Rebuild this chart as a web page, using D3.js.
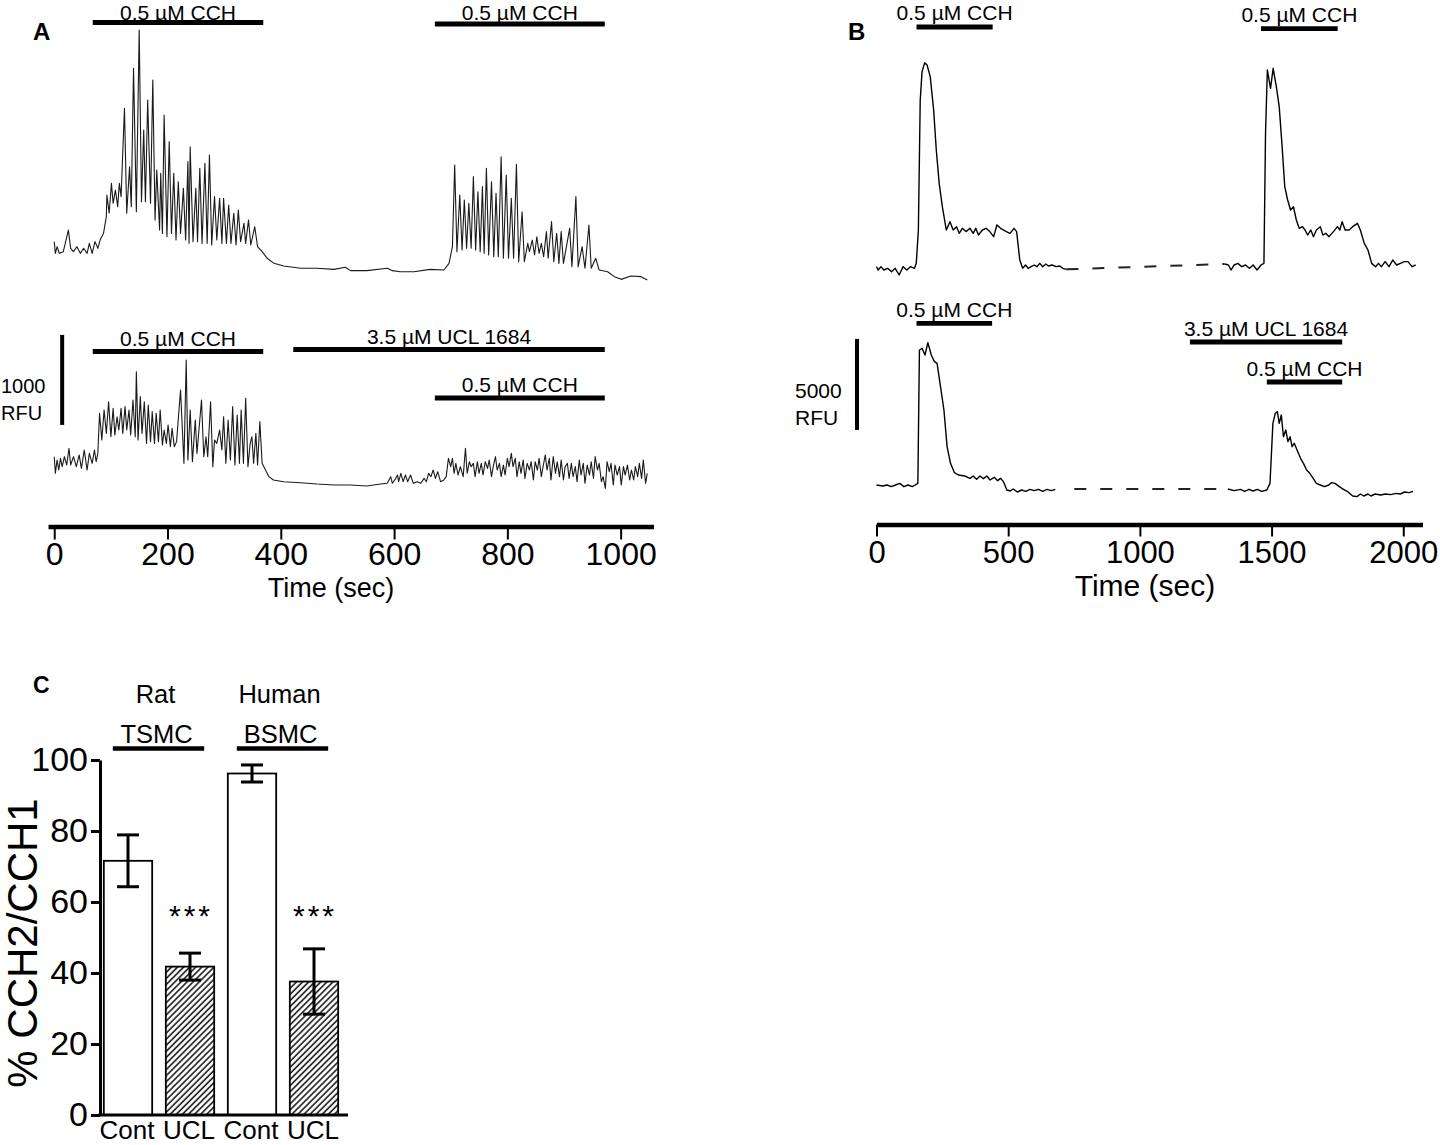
<!DOCTYPE html>
<html>
<head>
<meta charset="utf-8">
<script src="https://cdn.jsdelivr.net/npm/d3@7"></script>
<style>
  body { margin: 0; background: #fff; }
</style>
</head>
<body>
<div id="wrapper"></div>
<script>
// ---- Data ----
// Panel A, rat TSMC traces: [time (sec), RFU above baseline]
const traceA1 = [[0,315],[2,185],[5,259],[9,185],[16,204],[25,444],[29,241],[34,204],[40,259],[46,185],[52,241],[58,185],[62,296],[67,185],[72,315],[77,241],[81,333],[87,407],[92,593],[93,833],[97,630],[101,963],[104,741],[108,889],[112,704],[115,963],[118,815],[124,1796],[128,630],[133,1148],[136,704],[140,2241],[145,648],[150,2667],[154,759],[158,1556],[161,759],[165,1889],[170,741],[174,2111],[178,556],[181,1111],[186,444],[188,1074],[191,407],[194,1722],[199,370],[203,1426],[207,407],[211,1074],[215,333],[219,981],[223,407],[228,907],[232,333],[236,1204],[238,296],[240,1370],[245,315],[250,907],[253,315],[257,1130],[261,296],[266,1185],[270,296],[274,1278],[278,278],[283,815],[287,333],[292,796],[296,296],[299,796],[304,296],[308,722],[312,296],[317,630],[321,278],[325,667],[329,315],[335,519],[338,296],[343,556],[347,278],[354,481],[359,259],[367,204],[376,130],[388,74],[405,44],[435,19],[464,19],[494,7],[514,30],[523,-7],[552,-7],[588,19],[597,-7],[611,-19],[635,-19],[664,7],[688,0],[697,74],[703,259],[707,1167],[711,204],[716,833],[720,222],[724,778],[728,241],[732,741],[736,241],[740,1037],[744,222],[748,870],[752,204],[756,926],[759,185],[763,1130],[767,167],[772,981],[776,148],[780,852],[784,148],[789,1259],[793,130],[798,1056],[802,130],[807,796],[811,130],[816,1174],[820,93],[826,648],[830,93],[836,296],[839,204],[844,333],[848,167],[852,370],[856,185],[860,296],[864,148],[869,426],[872,130],[878,537],[882,93],[887,407],[891,74],[895,426],[899,74],[910,463],[914,37],[921,815],[925,37],[932,259],[937,19],[944,500],[948,19],[956,130],[962,0],[977,-19],[989,-74],[1001,-104],[1018,-67],[1036,-74],[1047,-111]]

const traceA2 = [[0,337],[2,152],[5,300],[8,189],[11,319],[14,226],[18,337],[22,244],[26,430],[29,244],[34,337],[39,226],[44,356],[48,207],[53,411],[58,189],[62,374],[67,263],[71,411],[74,281],[77,374],[80,819],[84,522],[88,856],[92,596],[96,948],[100,559],[104,874],[107,578],[111,781],[114,633],[118,874],[121,596],[125,893],[128,633],[132,856],[135,578],[139,967],[143,559],[145,1281],[148,522],[152,1004],[155,596],[159,948],[163,485],[166,911],[170,504],[173,837],[177,485],[180,819],[184,504],[187,856],[191,467],[194,633],[198,485],[201,689],[205,448],[208,652],[212,448],[216,504],[223,1078],[229,263],[233,1411],[236,300],[240,856],[244,281],[249,744],[252,374],[256,670],[260,967],[264,337],[268,559],[271,337],[276,948],[280,226],[283,522],[287,485],[292,633],[296,411],[299,781],[303,263],[307,744],[311,300],[315,893],[319,244],[323,800],[327,263],[330,856],[334,263],[338,985],[342,226],[346,485],[349,559],[352,263],[356,596],[359,244],[363,726],[367,263],[373,189],[379,115],[387,78],[405,59],[435,48],[464,33],[494,22],[523,22],[552,11],[576,33],[588,41],[594,115],[597,41],[603,96],[606,133],[608,59],[612,152],[616,59],[620,133],[624,59],[629,133],[634,41],[641,59],[647,41],[653,96],[657,59],[661,152],[665,115],[669,189],[673,96],[677,170],[682,59],[688,78],[692,115],[696,319],[700,226],[703,319],[706,152],[709,263],[713,133],[717,226],[722,115],[726,430],[729,152],[733,281],[736,226],[740,263],[743,115],[747,281],[750,152],[754,263],[757,133],[761,281],[765,207],[768,300],[772,115],[775,226],[779,337],[782,189],[786,263],[789,115],[793,244],[796,133],[800,319],[803,226],[807,374],[810,226],[814,319],[817,115],[821,281],[824,152],[828,300],[831,96],[835,263],[839,189],[842,281],[846,78],[849,281],[853,189],[856,319],[860,115],[863,226],[867,356],[870,189],[874,319],[877,78],[881,337],[885,152],[888,281],[892,115],[895,300],[899,78],[902,226],[906,263],[909,96],[913,263],[916,115],[920,226],[923,59],[927,300],[930,133],[934,263],[937,41],[941,244],[945,133],[948,281],[952,96],[955,337],[959,189],[962,263],[966,59],[969,115],[973,-15],[976,281],[980,170],[983,263],[987,22],[990,244],[994,133],[998,226],[1001,22],[1005,226],[1008,133],[1012,244],[1016,78],[1019,189],[1023,78],[1026,226],[1030,115],[1033,263],[1037,96],[1040,300],[1044,41],[1047,152]]

// Panel B, human BSMC traces, split around the break in recording
const traceB1Pre = [[0,73],[6,-110],[17,73],[28,-110],[42,-18],[57,-201],[71,-18],[86,-385],[101,73],[115,-110],[129,73],[144,-18],[151,256],[159,2088],[166,9231],[173,10788],[183,11282],[192,11154],[204,10513],[217,8681],[227,6484],[238,4652],[250,3370],[265,2088],[279,2546],[291,2088],[304,2271],[314,1905],[326,2180],[340,2000],[355,2180],[367,1905],[377,2180],[387,1813],[402,2088],[416,2180],[430,2000],[445,1722],[457,2363],[471,2180],[493,2000],[507,1905],[522,2180],[532,2000],[544,440],[555,-18],[566,165],[576,-18],[587,73],[599,165],[609,73],[620,256],[631,73],[643,220],[653,110],[667,165],[682,73],[696,110],[707,-18],[721,-73]]
const traceB1Post = [[1322,220],[1336,165],[1346,-110],[1358,165],[1372,256],[1387,73],[1401,165],[1416,-18],[1430,165],[1445,-110],[1460,165],[1471,256],[1477,7399],[1484,10879],[1496,9872],[1506,10971],[1518,9963],[1529,8864],[1540,6667],[1550,4469],[1561,3736],[1572,3187],[1583,3370],[1594,2637],[1605,2180],[1617,2271],[1627,2088],[1637,1813],[1649,2088],[1659,1722],[1670,2088],[1685,2271],[1695,1813],[1706,1905],[1718,1722],[1735,2000],[1750,2271],[1759,2088],[1768,2546],[1779,2088],[1794,2088],[1808,2271],[1826,2454],[1837,2088],[1852,1355],[1866,989],[1880,256],[1895,73],[1906,256],[1917,73],[1931,348],[1946,73],[1960,440],[1975,165],[1989,256],[2004,348],[2018,348],[2033,73],[2047,165]]
const gapB1 = [[721,-73],[1322,220]]

const traceB2Pre = [[0,275],[24,220],[40,275],[56,183],[72,275],[88,366],[104,183],[120,275],[136,183],[147,275],[157,366],[163,7692],[173,7784],[184,7418],[195,8095],[208,7418],[220,7051],[230,6960],[243,5678],[256,4396],[268,2381],[281,1465],[296,952],[311,824],[335,769],[355,641],[367,769],[380,586],[393,769],[406,623],[419,769],[431,549],[447,696],[460,513],[471,641],[482,458],[495,0],[508,-55],[519,55],[535,-110],[551,0],[567,-73],[583,37],[599,-37],[615,37],[631,-73],[647,37],[663,-37],[679,37]]
const traceB2Post = [[1334,55],[1358,-37],[1382,37],[1398,-73],[1414,37],[1430,-55],[1446,37],[1462,-73],[1482,0],[1494,366],[1505,3663],[1514,4212],[1522,4304],[1529,3663],[1537,4121],[1545,2930],[1554,3297],[1562,2656],[1570,2930],[1578,2381],[1586,2564],[1594,2289],[1602,2015],[1610,1740],[1621,1465],[1633,1099],[1645,916],[1658,641],[1670,366],[1685,275],[1701,183],[1717,275],[1728,403],[1741,366],[1757,183],[1773,37],[1789,-92],[1808,-330],[1824,-366],[1837,-220],[1850,-330],[1866,-220],[1877,-330],[1893,-220],[1914,-275],[1933,-220],[1952,-256],[1973,-183],[1989,-220],[2005,-110],[2021,-147],[2037,-73]]
const gapB2 = [[751,55],[1326,55]]

// Drug applications [label, start sec, end sec]
const drugsA1 = [["0.5 µM CCH", 68, 369], ["0.5 µM CCH", 672, 972]]
const drugsA2 = [["0.5 µM CCH", 68, 369], ["3.5 µM UCL 1684", 422, 972], ["0.5 µM CCH", 672, 972]]
const drugsB1 = [["0.5 µM CCH", 152, 441], ["0.5 µM CCH", 1460, 1751]]
const drugsB2 = [["0.5 µM CCH", 152, 439], ["3.5 µM UCL 1684", 1190, 1768], ["0.5 µM CCH", 1482, 1768]]

// Axis ticks
const ticksA = [0, 200, 400, 600, 800, 1000]
const ticksB = [0, 500, 1000, 1500, 2000]
const ticksC = [0, 20, 40, 60, 80, 100]

// Scale bars
const scaleBarA = 1000
const scaleBarB = 5000

// Panel C summary
const cCategories = ["Cont", "UCL", "Cont", "UCL"]
const cMeans = [71.6, 41.8, 96.2, 37.6]
const cErrors = [7.3, 3.8, 2.4, 9.2]
const cTreated = [false, true, false, true]
const cGroupsTop = ["Rat", "Human"]
const cGroupsBottom = ["TSMC", "BSMC"]
const cStars = ["", "***", "", "***"]

function drawChart() {

    const font = '"Liberation Sans", Arial, Helvetica, sans-serif'

    const wrapper = d3.select("#wrapper")
        .append("svg")
        .attr("width", 1440)
        .attr("height", 1145)
        .attr("font-family", font)
        .style("background", "#fff")

    const defs = wrapper.append("defs")
    const hatch = defs.append("pattern")
        .attr("id", "hatch")
        .attr("patternUnits", "userSpaceOnUse")
        .attr("width", 4.3)
        .attr("height", 4.3)
        .attr("patternTransform", "rotate(45)")
    hatch.append("rect").attr("width", 4.3).attr("height", 4.3).attr("fill", "#fff")
    hatch.append("line")
        .attr("x1", 1).attr("y1", 0).attr("x2", 1).attr("y2", 4.3)
        .attr("stroke", "#1a1a1a").attr("stroke-width", 1.6)

    // Scales
    const xA = d3.scaleLinear().domain([-11, 1058]).range([48, 653.5])
    const yA1 = d3.scaleLinear().domain([0, 1000]).range([270, 180])
    const yA2 = d3.scaleLinear().domain([0, 1000]).range([487, 397])

    const xB = d3.scaleLinear().domain([0, 2073]).range([876.5, 1422.5])
    const yB1 = d3.scaleLinear().domain([0, 5000]).range([268, 177])
    const yB2 = d3.scaleLinear().domain([0, 5000]).range([490, 399])

    // Traces
    const drawTrace = (data, x, y, width, color) => {
        const line = d3.line()
            .x(d => x(d[0]))
            .y(d => y(d[1]))
        wrapper.append("path")
            .datum(data)
            .attr("d", line)
            .attr("fill", "none")
            .attr("stroke", color)
            .attr("stroke-width", width)
            .attr("stroke-linejoin", "round")
    }
    drawTrace(traceA1, xA, yA1, 1.1, "#1a1a1a")
    drawTrace(traceA2, xA, yA2, 1.1, "#1a1a1a")
    drawTrace(traceB1Pre, xB, yB1, 1.4, "#000")
    drawTrace(traceB1Post, xB, yB1, 1.4, "#000")
    drawTrace(traceB2Pre, xB, yB2, 1.4, "#000")
    drawTrace(traceB2Post, xB, yB2, 1.4, "#000")

    // break in recording
    const drawGap = (data, y) => {
        wrapper.append("path")
            .datum(data)
            .attr("d", d3.line().x(d => xB(d[0])).y(d => y(d[1])))
            .attr("fill", "none")
            .attr("stroke", "#222")
            .attr("stroke-width", 2)
            .attr("stroke-dasharray", "12,14")
    }
    drawGap(gapB1, yB1)
    drawGap(gapB2, yB2)

    // Drug bars
    const drawDrugs = (drugs, x, rows, textGap) => {
        drugs.forEach((d, i) => {
            wrapper.append("line")
                .attr("x1", x(d[1])).attr("x2", x(d[2]))
                .attr("y1", rows[i]).attr("y2", rows[i])
                .attr("stroke", "#000")
                .attr("stroke-width", 4.8)
            wrapper.append("text")
                .attr("x", (x(d[1]) + x(d[2])) / 2)
                .attr("y", Math.max(rows[i] - textGap, 19.5))
                .attr("text-anchor", "middle")
                .attr("font-size", 21)
                .text(d[0])
        })
    }
    drawDrugs(drugsA1, xA, [22.5, 24], 6)
    drawDrugs(drugsA2, xA, [351.5, 349.5, 398], 6)
    drawDrugs(drugsB1, xB, [27, 28.7], 7)
    drawDrugs(drugsB2, xB, [323.3, 342, 382], 6.5)

    // Scale bars
    wrapper.append("line")
        .attr("x1", xA(14)).attr("x2", xA(14))
        .attr("y1", yA2(690)).attr("y2", yA2(690 + scaleBarA))
        .attr("stroke", "#000").attr("stroke-width", 4)
    wrapper.append("text").attr("x", 1).attr("y", 393).attr("font-size", 20).text(scaleBarA)
    wrapper.append("text").attr("x", 1).attr("y", 420).attr("font-size", 20).text("RFU")

    wrapper.append("line")
        .attr("x1", xB(-74)).attr("x2", xB(-74))
        .attr("y1", yB2(3300)).attr("y2", yB2(3300 + scaleBarB))
        .attr("stroke", "#000").attr("stroke-width", 4)
    wrapper.append("text").attr("x", 795).attr("y", 398).attr("font-size", 21).text(scaleBarB)
    wrapper.append("text").attr("x", 795).attr("y", 425).attr("font-size", 21).text("RFU")

    // Time axes
    const styleAxis = (g, size, lineW) => {
        g.attr("font-family", font)
        g.select(".domain").attr("stroke-width", lineW)
        g.selectAll(".tick line").attr("stroke-width", 2)
        g.selectAll(".tick text").attr("font-size", size).attr("fill", "#000")
    }
    const xAxisA = wrapper.append("g")
        .attr("transform", "translate(0, 526.5)")
        .call(d3.axisBottom(xA).tickValues(ticksA).tickFormat(d3.format("d"))
            .tickSize(13).tickSizeOuter(0).tickPadding(3))
    styleAxis(xAxisA, 32, 4.5)
    wrapper.append("text")
        .attr("x", 331).attr("y", 597)
        .attr("text-anchor", "middle")
        .attr("font-size", 27)
        .text("Time (sec)")

    const xAxisB = wrapper.append("g")
        .attr("transform", "translate(0, 524.5)")
        .call(d3.axisBottom(xB).tickValues(ticksB).tickFormat(d3.format("d"))
            .tickSize(12).tickSizeOuter(0).tickPadding(4))
    styleAxis(xAxisB, 31, 4.5)
    wrapper.append("text")
        .attr("x", 1145).attr("y", 596)
        .attr("text-anchor", "middle")
        .attr("font-size", 30)
        .text("Time (sec)")

    // Panel letters
    const letter = (t, x, y, s) => wrapper.append("text")
        .attr("x", x).attr("y", y)
        .attr("font-size", s).attr("font-weight", "bold")
        .text(t)
    letter("A", 33, 40, 24)
    letter("B", 848, 40, 24)
    letter("C", 33, 693, 23)

    // Panel C bar chart
    const yC = d3.scaleLinear().domain([0, 100]).range([1115, 760])
    const xC = d3.scaleBand()
        .domain(d3.range(cCategories.length))
        .range([97, 345])
        .paddingInner(0.22)
        .paddingOuter(0.11)

    const bars = wrapper.append("g")
    bars.selectAll("rect")
        .data(cMeans)
        .join("rect")
            .attr("x", (d, i) => xC(i))
            .attr("y", d => yC(d))
            .attr("width", xC.bandwidth())
            .attr("height", d => yC(0) - yC(d))
            .attr("fill", (d, i) => cTreated[i] ? "url(#hatch)" : "#fff")
            .attr("stroke", "#000")
            .attr("stroke-width", 1.8)

    // error bars
    const errs = wrapper.append("g")
        .attr("stroke", "#000")
        .attr("stroke-width", 3)
    cMeans.forEach((m, i) => {
        const cx = xC(i) + xC.bandwidth() / 2
        errs.append("line")
            .attr("x1", cx).attr("x2", cx)
            .attr("y1", yC(m + cErrors[i])).attr("y2", yC(m - cErrors[i]))
        ;[m + cErrors[i], m - cErrors[i]].forEach(v => {
            errs.append("line")
                .attr("x1", cx - 11).attr("x2", cx + 11)
                .attr("y1", yC(v)).attr("y2", yC(v))
        })
    })

    // significance
    wrapper.append("g").selectAll("text")
        .data(cStars)
        .join("text")
            .attr("x", (d, i) => xC(i) + xC.bandwidth() / 2 + 1)
            .attr("y", 926)
            .attr("text-anchor", "middle")
            .attr("font-size", 30)
            .attr("letter-spacing", 3)
            .text(d => d)

    // axes
    const yAxisC = wrapper.append("g")
        .attr("transform", "translate(100, 0)")
        .call(d3.axisLeft(yC).tickValues(ticksC).tickSize(9).tickSizeOuter(0).tickPadding(3))
    yAxisC.attr("font-family", font)
    yAxisC.select(".domain").attr("stroke-width", 3)
    yAxisC.selectAll(".tick line").attr("stroke-width", 3)
    yAxisC.selectAll(".tick text").attr("font-size", 34).attr("fill", "#000")

    wrapper.append("line")
        .attr("x1", 98.5).attr("x2", 348)
        .attr("y1", yC(0)).attr("y2", yC(0))
        .attr("stroke", "#000").attr("stroke-width", 3)

    wrapper.append("g").selectAll("text")
        .data(cCategories)
        .join("text")
            .attr("x", (d, i) => xC(i) + xC.bandwidth() / 2 - 1)
            .attr("y", 1139)
            .attr("text-anchor", "middle")
            .attr("font-size", 26)
            .text(d => d)

    wrapper.append("text")
        .attr("transform", "translate(37, 943) rotate(-90)")
        .attr("text-anchor", "middle")
        .attr("font-size", 42)
        .text("% CCH2/CCH1")

    // group headers
    cGroupsTop.forEach((g, k) => {
        const x0 = xC(2 * k) + 9
        const x1 = xC(2 * k + 1) + xC.bandwidth() - 10
        const cx = (x0 + x1) / 2
        wrapper.append("text")
            .attr("x", cx - 3).attr("y", 703)
            .attr("text-anchor", "middle")
            .attr("font-size", 25.5)
            .text(g)
        wrapper.append("text")
            .attr("x", cx - 2).attr("y", 742.5)
            .attr("text-anchor", "middle")
            .attr("font-size", 25.5)
            .text(cGroupsBottom[k])
        wrapper.append("line")
            .attr("x1", x0).attr("x2", x1)
            .attr("y1", 748.5).attr("y2", 748.5)
            .attr("stroke", "#000").attr("stroke-width", 4.5)
    })
}
drawChart()
</script>
</body>
</html>
